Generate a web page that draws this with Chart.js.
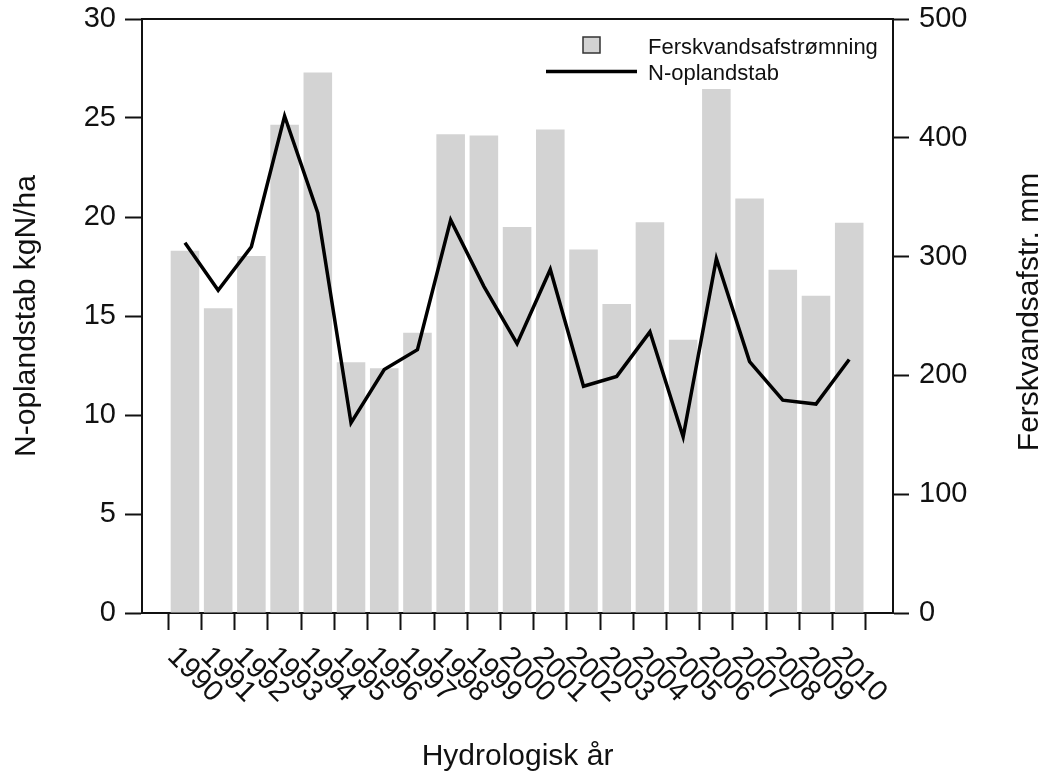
<!DOCTYPE html>
<html>
<head>
<meta charset="utf-8">
<script src="https://cdn.jsdelivr.net/npm/chart.js@4/dist/chart.umd.min.js"></script>
<style>
  html, body { margin: 0; padding: 0; background: #ffffff; }
  canvas { display: block; }
</style>
</head>
<body>
<canvas id="chart" width="1048" height="775"></canvas>
<script>
// Hydrological years on the category axis
const years = ['1990','1991','1992','1993','1994','1995','1996','1997','1998','1999',
               '2000','2001','2002','2003','2004','2005','2006','2007','2008','2009','2010'];

// Freshwater runoff, mm (right axis, bars)
const runoffMm = [305, 256.5, 300.5, 411, 455, 211, 206, 236, 403, 402,
                  325, 407, 306, 260, 329, 230, 441, 349, 289, 267, 328.5];

// Nitrogen loss from the catchment, kg N/ha (left axis, line)
const nLossKgHa = [18.7, 16.3, 18.5, 25.1, 20.2, 9.6, 12.3, 13.3, 19.85, 16.5,
                   13.6, 17.35, 11.45, 11.95, 14.2, 8.9, 17.9, 12.7, 10.75, 10.55, 12.8];

// Axis tick values
const leftTicks = [0, 5, 10, 15, 20, 25, 30];
const rightTicks = [0, 100, 200, 300, 400, 500];

// Axis titles
const xTitle = 'Hydrologisk år';
const leftTitle = 'N-oplandstab kgN/ha';
const rightTitle = 'Ferskvandsafstr. mm';

const FONT = '"Liberation Sans", Arial, Helvetica, sans-serif';
const INK = '#111111';
const BAR_GREY = '#d3d3d3';

// Rotated year labels (text runs down to the right, starting at each tick)
const yearLabels = {
  id: 'yearLabels',
  afterDraw(chart) {
    const xs = chart.scales.x;
    const ctx = chart.ctx;
    ctx.save();
    ctx.font = '29px ' + FONT;
    ctx.fillStyle = INK;
    ctx.textAlign = 'left';
    ctx.textBaseline = 'middle';
    years.forEach((label, i) => {
      const px = xs.getPixelForValue(i);
      ctx.save();
      ctx.translate(px - 13, xs.top + 39);
      ctx.rotate(Math.PI / 4);
      ctx.fillText(label, 0, 0);
      ctx.restore();
    });
    ctx.restore();
  }
};

// Right axis title, reading bottom to top like the left one
const rightAxisTitle = {
  id: 'rightAxisTitle',
  afterDraw(chart) {
    const ys = chart.scales.yQ;
    const ctx = chart.ctx;
    ctx.save();
    ctx.font = '30px ' + FONT;
    ctx.fillStyle = INK;
    ctx.textAlign = 'center';
    ctx.textBaseline = 'middle';
    ctx.translate(ys.right - 18, (ys.top + ys.bottom) / 2 - 4);
    ctx.rotate(-Math.PI / 2);
    ctx.fillText(rightTitle, 0, 0);
    ctx.restore();
  }
};

// Closing line along the top of the plot frame
const topFrame = {
  id: 'topFrame',
  afterDraw(chart) {
    const a = chart.chartArea;
    const ctx = chart.ctx;
    ctx.save();
    ctx.strokeStyle = INK;
    ctx.lineWidth = 2;
    ctx.beginPath();
    ctx.moveTo(a.left - 1, a.top);
    ctx.lineTo(a.right + 1, a.top);
    ctx.stroke();
    ctx.restore();
  }
};

// Legend in the upper right of the plot
const insetLegend = {
  id: 'insetLegend',
  afterDraw(chart) {
    const ctx = chart.ctx;
    const barDs = chart.data.datasets[1];
    const lineDs = chart.data.datasets[0];
    ctx.save();
    // bar swatch
    ctx.fillStyle = BAR_GREY;
    ctx.fillRect(583, 37, 17, 16);
    ctx.strokeStyle = '#333333';
    ctx.lineWidth = 1.5;
    ctx.strokeRect(583, 37, 17, 16);
    // line swatch
    ctx.strokeStyle = '#000000';
    ctx.lineWidth = 3.5;
    ctx.beginPath();
    ctx.moveTo(546, 71.5);
    ctx.lineTo(637, 71.5);
    ctx.stroke();
    // texts
    ctx.fillStyle = INK;
    ctx.font = '22px ' + FONT;
    ctx.textAlign = 'left';
    ctx.textBaseline = 'alphabetic';
    ctx.fillText(barDs.label, 648, 54);
    ctx.fillText(lineDs.label, 648, 80);
    ctx.restore();
  }
};

const tickGrid = (len) => ({
  drawOnChartArea: false,
  drawTicks: true,
  tickLength: len,
  tickWidth: 2,
  tickColor: INK
});

new Chart(document.getElementById('chart'), {
  data: {
    datasets: [
      {
        type: 'line',
        label: 'N-oplandstab',
        data: nLossKgHa.map((v, i) => ({ x: i, y: v })),
        yAxisID: 'yN',
        borderColor: '#000000',
        borderWidth: 3.5,
        pointRadius: 0,
        tension: 0,
        fill: false,
        order: 0
      },
      {
        type: 'bar',
        label: 'Ferskvandsafstrømning',
        data: runoffMm.map((v, i) => ({ x: i, y: v })),
        yAxisID: 'yQ',
        backgroundColor: BAR_GREY,
        borderWidth: 0,
        barPercentage: 0.86,
        categoryPercentage: 1.0,
        order: 1
      }
    ]
  },
  options: {
    responsive: false,
    animation: false,
    devicePixelRatio: 1,
    layout: { padding: { top: 19, left: 0, right: 0, bottom: 0 } },
    plugins: {
      legend: { display: false },
      tooltip: { enabled: false }
    },
    scales: {
      x: {
        type: 'linear',
        position: 'bottom',
        min: -0.755,
        max: 20.78,
        afterBuildTicks: (scale) => { scale.ticks = years.map((_, i) => ({ value: i })); },
        afterFit: (scale) => { scale.height = 162; scale.paddingLeft = 0; scale.paddingRight = 0; },
        ticks: { display: false },
        grid: tickGrid(17),
        border: { display: true, color: INK, width: 2 },
        title: {
          display: true,
          text: xTitle,
          color: INK,
          font: { family: FONT, size: 30 },
          padding: { top: 0, bottom: 0 }
        }
      },
      yN: {
        type: 'linear',
        position: 'left',
        min: 0,
        max: 30,
        afterBuildTicks: (scale) => { scale.ticks = leftTicks.map(v => ({ value: v })); },
        afterFit: (scale) => { scale.width = 142; scale.paddingTop = 0; scale.paddingBottom = 0; },
        ticks: {
          color: INK,
          padding: 9,
          font: { family: FONT, size: 29 }
        },
        grid: tickGrid(17),
        border: { display: true, color: INK, width: 2 },
        title: {
          display: true,
          text: leftTitle,
          color: INK,
          font: { family: FONT, size: 30 },
          padding: { top: 9, bottom: 0 }
        }
      },
      yQ: {
        type: 'linear',
        position: 'right',
        min: 0,
        max: 500,
        afterBuildTicks: (scale) => { scale.ticks = rightTicks.map(v => ({ value: v })); },
        afterFit: (scale) => { scale.width = 155; scale.paddingTop = 0; scale.paddingBottom = 0; },
        ticks: {
          color: INK,
          padding: 10,
          font: { family: FONT, size: 29 }
        },
        grid: tickGrid(16),
        border: { display: true, color: INK, width: 2 },
        title: { display: false, text: rightTitle }
      }
    }
  },
  plugins: [topFrame, yearLabels, rightAxisTitle, insetLegend]
});
</script>
</body>
</html>
